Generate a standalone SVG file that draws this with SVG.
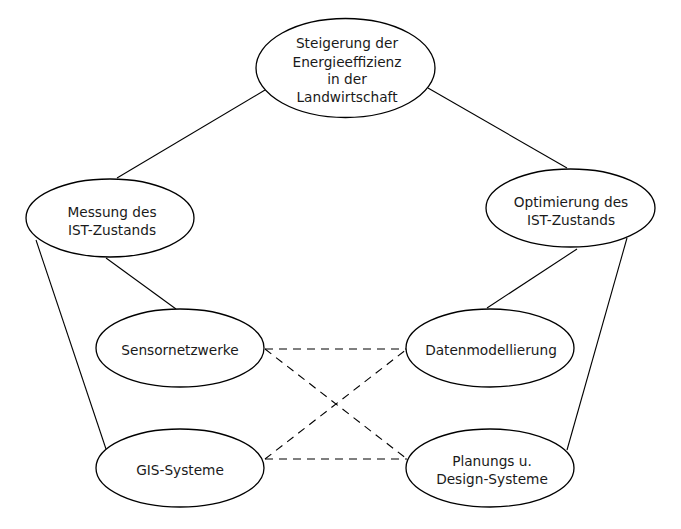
<svg xmlns="http://www.w3.org/2000/svg" width="681" height="529" viewBox="0 0 681 529">
<style>
.n ellipse{fill:#fff;stroke:#000;stroke-width:1.3}
.n text{font-family:"DejaVu Sans",sans-serif;font-size:13.7px;fill:#1a1a1a;text-anchor:middle}
.c line{stroke:#000;stroke-width:1.1}
.c .d{stroke-dasharray:8,6}
</style>
<rect width="681" height="529" fill="#fff"/>
<g class="c">
<line x1="265" y1="90" x2="117" y2="178"/>
<line x1="428" y1="88" x2="567" y2="168"/>
<line x1="106" y1="258" x2="176" y2="309"/>
<line x1="36" y1="240" x2="106" y2="449"/>
<line x1="577" y1="249" x2="487" y2="308"/>
<line x1="627" y1="238" x2="567" y2="450"/>
<line class="d" x1="265" y1="349" x2="407" y2="349"/>
<line class="d" x1="265" y1="349" x2="407" y2="459"/>
<line class="d" x1="265" y1="459" x2="407" y2="349"/>
<line class="d" x1="265" y1="459" x2="407" y2="459"/>
</g>
<g id="top" class="n"><ellipse cx="345.5" cy="68" rx="89.5" ry="49.5"/>
<text x="347" y="48">Steigerung der</text><text x="347" y="66.5">Energieeffizienz</text><text x="347" y="84">in der</text><text x="347" y="102">Landwirtschaft</text></g>
<g id="messung" class="n"><ellipse cx="110" cy="218" rx="84" ry="39"/>
<text x="112" y="217">Messung des</text><text x="112" y="234.5">IST-Zustands</text></g>
<g id="optimierung" class="n"><ellipse cx="570.5" cy="208" rx="84.5" ry="39"/>
<text x="571" y="207">Optimierung des</text><text x="571" y="224.5">IST-Zustands</text></g>
<g id="sensor" class="n"><ellipse cx="180" cy="348" rx="84" ry="39"/>
<text x="180" y="355">Sensornetzwerke</text></g>
<g id="daten" class="n"><ellipse cx="490" cy="348" rx="84" ry="39"/>
<text x="491" y="355">Datenmodellierung</text></g>
<g id="gis" class="n"><ellipse cx="180" cy="468" rx="84" ry="39"/>
<text x="180" y="475">GIS-Systeme</text></g>
<g id="planung" class="n"><ellipse cx="490" cy="468" rx="84" ry="39"/>
<text x="492" y="466">Planungs u.</text><text x="492" y="484">Design-Systeme</text></g>
</svg>
